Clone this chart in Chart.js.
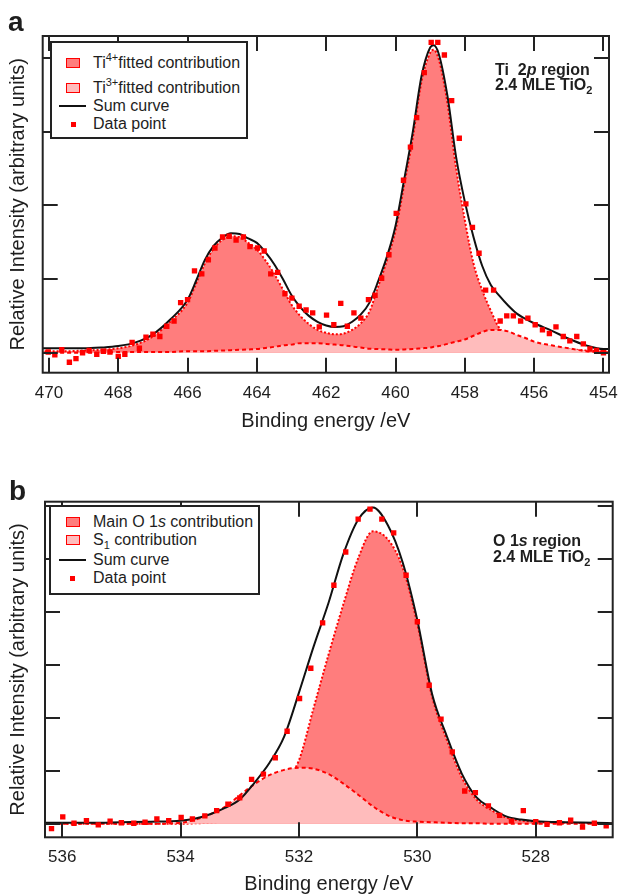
<!DOCTYPE html>
<html><head><meta charset="utf-8">
<script src="https://cdn.jsdelivr.net/npm/chart.js@4.4.1/dist/chart.umd.min.js"></script>
<style>
html,body{margin:0;padding:0;background:#fff;}
#wrap{position:relative;width:622px;height:894px;overflow:hidden;font-family:"Liberation Sans",Arial,Helvetica,sans-serif;color:#1e1e1e;}
canvas{position:absolute;left:0;}
#cA{top:0;} #cB{top:440px;}
.plabel{position:absolute;font-weight:bold;font-size:28px;line-height:28px;}
.legend{position:absolute;background:#fff;border:2px solid #222;box-sizing:border-box;}
.row{position:absolute;left:0;height:18px;width:100%;font-size:16px;line-height:18px;white-space:nowrap;}
.row .txt{position:absolute;top:0;}
.mk{position:absolute;box-sizing:border-box;}
.note{position:absolute;font-weight:bold;font-size:16px;line-height:15.5px;white-space:nowrap;}
sup{font-size:11px;vertical-align:baseline;position:relative;top:-7px;}
sub{font-size:11px;vertical-align:baseline;position:relative;top:4px;}
</style></head>
<body>
<div id="wrap">
<canvas id="cA" width="622" height="440"></canvas>
<canvas id="cB" width="622" height="454"></canvas>

<div class="plabel" style="left:8px;top:8px;">a</div>
<div class="plabel" style="left:9px;top:477px;">b</div>

<div class="legend" style="left:50px;top:41px;width:198px;height:98px;">
  <div class="row" style="top:11px;"><div class="mk" style="left:14px;top:4px;width:14px;height:10px;border:1.5px solid #ff0000;background:#ff7d7d;"></div><span class="txt" style="left:41px;">Ti<sup>4+</sup>fitted contribution</span></div>
  <div class="row" style="top:35.5px;"><div class="mk" style="left:14px;top:4px;width:14px;height:10px;border:1.5px solid #ff0000;background:#ffbcbc;"></div><span class="txt" style="left:41px;">Ti<sup>3+</sup>fitted contribution</span></div>
  <div class="row" style="top:53.5px;"><div class="mk" style="left:7px;top:8px;width:27px;height:2px;background:#111;"></div><span class="txt" style="left:41px;">Sum curve</span></div>
  <div class="row" style="top:72px;"><div class="mk" style="left:18.5px;top:6.5px;width:5px;height:5px;background:#ff0000;"></div><span class="txt" style="left:41px;">Data point</span></div>
</div>

<div class="legend" style="left:49px;top:505px;width:211px;height:90px;">
  <div class="row" style="top:5.5px;"><div class="mk" style="left:14.5px;top:4px;width:14px;height:10px;border:1.5px solid #ff0000;background:#ff7d7d;"></div><span class="txt" style="left:42px;">Main O 1<i>s</i> contribution</span></div>
  <div class="row" style="top:24px;"><div class="mk" style="left:14.5px;top:4px;width:14px;height:10px;border:1.5px solid #ff0000;background:#ffbcbc;"></div><span class="txt" style="left:42px;">S<sub>1</sub> contribution</span></div>
  <div class="row" style="top:44px;"><div class="mk" style="left:7.5px;top:8px;width:27px;height:2px;background:#111;"></div><span class="txt" style="left:42px;">Sum curve</span></div>
  <div class="row" style="top:62px;"><div class="mk" style="left:19px;top:6.5px;width:5px;height:5px;background:#ff0000;"></div><span class="txt" style="left:42px;">Data point</span></div>
</div>

<div class="note" style="left:495px;top:61.7px;">Ti&nbsp; 2<i>p</i> region<br>2.4 MLE TiO<sub>2</sub></div>
<div class="note" style="left:493px;top:533px;">O 1<i>s</i> region<br>2.4 MLE TiO<sub>2</sub></div>
</div>

<script>
// ---------- Panel a : Ti 2p region ----------
const energyA = [453.8, 454, 454.5, 455, 455.5, 456, 456.25, 456.5, 456.75, 457, 457.25, 457.5, 457.75, 458, 458.25, 458.5, 458.75, 458.9, 459, 459.25, 459.5, 459.75, 460, 460.25, 460.5, 460.75, 461, 461.25, 461.5, 461.75, 462, 462.25, 462.5, 462.75, 463, 463.25, 463.5, 463.75, 464, 464.25, 464.5, 464.75, 465, 465.25, 465.5, 465.75, 466, 466.5, 467, 467.5, 468, 468.5, 469, 469.5, 470, 470.2];
const sumA = [0.05, 0.05, 0.10, 0.19, 0.30, 0.40, 0.46, 0.53, 0.64, 0.77, 0.92, 1.18, 1.57, 2.05, 2.65, 3.48, 4.05, 4.17, 4.14, 3.75, 3.0, 2.35, 1.72, 1.3, 0.97, 0.68, 0.52, 0.42, 0.36, 0.35, 0.37, 0.42, 0.5, 0.62, 0.78, 1.0, 1.2, 1.36, 1.49, 1.55, 1.61, 1.62, 1.56, 1.45, 1.26, 0.98, 0.72, 0.45, 0.25, 0.14, 0.09, 0.07, 0.06, 0.06, 0.06, 0.06];
const ti4A = [0.02, 0.02, 0.03, 0.05, 0.07, 0.11, 0.14, 0.18, 0.24, 0.33, 0.57, 0.85, 1.21, 1.8, 2.5, 3.38, 3.98, 4.11, 4.07, 3.68, 2.92, 2.28, 1.66, 1.25, 0.9, 0.56, 0.4, 0.31, 0.26, 0.25, 0.27, 0.31, 0.39, 0.5, 0.65, 0.86, 1.07, 1.25, 1.4, 1.49, 1.57, 1.58, 1.53, 1.41, 1.21, 0.94, 0.68, 0.42, 0.22, 0.11, 0.06, 0.04, 0.03, 0.02, 0.02, 0.02];
const ti3A = [0.0, 0.01, 0.02, 0.06, 0.1, 0.15, 0.2, 0.24, 0.29, 0.31, 0.31, 0.28, 0.23, 0.18, 0.15, 0.12, 0.09, 0.08, 0.07, 0.06, 0.05, 0.045, 0.04, 0.045, 0.05, 0.055, 0.07, 0.085, 0.1, 0.11, 0.12, 0.13, 0.13, 0.13, 0.11, 0.1, 0.08, 0.065, 0.05, 0.045, 0.04, 0.035, 0.03, 0.025, 0.02, 0.02, 0.02, 0.01, 0.01, 0.01, 0.01, 0.0, 0.0, 0.0, 0.0, 0.0];
const dataXA = [470.02, 469.83, 469.63, 469.41, 469.22, 469.03, 468.84, 468.62, 468.43, 468.24, 468.0, 467.81, 467.6, 467.39, 467.2, 467.0, 466.8, 466.6, 466.39, 466.2, 466.0, 465.8, 465.59, 465.4, 465.21, 464.99, 464.8, 464.6, 464.39, 464.2, 463.98, 463.79, 463.6, 463.4, 463.19, 462.99, 462.78, 462.58, 462.39, 462.2, 461.99, 461.78, 461.58, 461.39, 461.2, 461.0, 460.78, 460.59, 460.4, 460.19, 459.98, 459.77, 459.57, 459.39, 459.17, 458.97, 458.78, 458.59, 458.38, 458.16, 457.97, 457.78, 457.59, 457.4, 457.17, 456.98, 456.79, 456.6, 456.39, 456.18, 455.97, 455.76, 455.56, 455.37, 455.16, 454.97, 454.77, 454.58, 454.39, 454.2, 454.0];
const dataYA = [0.01, -0.03, 0.04, -0.13, -0.08, 0.0, 0.03, -0.02, 0.02, 0.01, -0.05, -0.02, 0.14, 0.06, 0.21, 0.25, 0.22, 0.36, 0.43, 0.68, 0.72, 1.11, 1.07, 1.26, 1.42, 1.57, 1.58, 1.53, 1.57, 1.44, 1.42, 1.38, 1.07, 1.09, 0.8, 0.74, 0.63, 0.58, 0.54, 0.35, 0.51, 0.38, 0.67, 0.36, 0.54, 0.47, 0.72, 0.78, 1.01, 1.33, 1.89, 2.34, 2.79, 3.19, 3.8, 4.21, 4.21, 4.04, 3.42, 2.91, 2.02, 1.70, 1.35, 0.85, 0.85, 0.43, 0.50, 0.50, 0.43, 0.47, 0.38, 0.31, 0.26, 0.35, 0.22, 0.16, 0.22, 0.12, 0.05, 0.03, 0.0];
const xTicksA = [454, 456, 458, 460, 462, 464, 466, 468, 470];
const yTicksA = [0, 1, 2, 3, 4];

// ---------- Panel b : O 1s region ----------
const energyB = [526.7, 527, 527.5, 528, 528.25, 528.5, 528.75, 529, 529.25, 529.5, 529.75, 530, 530.25, 530.5, 530.75, 531, 531.25, 531.5, 531.75, 532, 532.25, 532.5, 532.75, 533, 533.25, 533.5, 533.75, 534, 534.5, 535, 535.5, 536, 536.3];
const sumB = [0.01, 0.02, 0.03, 0.05, 0.08, 0.14, 0.3, 0.5, 0.95, 1.65, 2.45, 3.85, 4.95, 5.65, 5.98, 5.75, 5.1, 4.18, 3.36, 2.48, 1.65, 1.15, 0.78, 0.46, 0.3, 0.18, 0.1, 0.06, 0.04, 0.03, 0.02, 0.02, 0.02];
const mainB = [0.0, 0.01, 0.02, 0.04, 0.06, 0.12, 0.26, 0.46, 0.88, 1.58, 2.4, 3.78, 4.85, 5.38, 5.53, 5.02, 4.15, 3.2, 2.2, 1.2, 0.75, 0.4, 0.2, 0.1, 0.05, 0.02, 0.01, 0.0, 0.0, 0.0, 0.0, 0.0, 0.0];
const s1B = [0.0, 0.0, 0.0, 0.0, 0.0, 0.0, 0.0, 0.01, 0.01, 0.02, 0.03, 0.04, 0.07, 0.16, 0.33, 0.55, 0.76, 0.94, 1.04, 1.06, 1.02, 0.92, 0.75, 0.54, 0.32, 0.18, 0.08, 0.02, 0.0, 0.0, 0.0, 0.0, 0.0];
const dataXB = [536.18, 535.99, 535.8, 535.59, 535.39, 535.19, 535.0, 534.79, 534.6, 534.4, 534.2, 533.99, 533.8, 533.59, 533.39, 533.2, 533.0, 532.8, 532.6, 532.4, 532.2, 531.99, 531.8, 531.6, 531.41, 531.21, 531.0, 530.8, 530.6, 530.4, 530.19, 530.0, 529.8, 529.6, 529.41, 529.2, 529.02, 528.8, 528.61, 528.41, 528.21, 528.0, 527.81, 527.6, 527.41, 527.21, 527.01, 526.81];
const dataYB = [-0.09, 0.13, 0.01, 0.06, -0.02, 0.05, 0.02, 0.01, 0.03, 0.09, 0.06, 0.12, 0.09, 0.15, 0.25, 0.37, 0.49, 0.84, 0.94, 1.25, 1.75, 2.37, 2.94, 3.8, 4.51, 5.14, 5.76, 5.95, 5.76, 5.5, 4.70, 3.82, 2.62, 1.98, 1.36, 0.62, 0.59, 0.34, 0.16, 0.05, 0.25, 0.04, -0.01, 0.02, 0.07, -0.06, 0.01, -0.04];
const xTicksB = [528, 530, 532, 534, 536];
const yTicksB = [0, 1, 2, 3, 4, 5, 6];

const yTitle = 'Relative Intensity (arbitrary units)';
const xTitle = 'Binding energy /eV';

const FONT = '"Liberation Sans", Arial, Helvetica, sans-serif';
const INK = '#1e1e1e';
const RED = '#ff0000';
const FILL_MAIN = '#ff7d7d';
const FILL_MINOR = '#ffbcbc';

const framePlugin = {
  id: 'frame',
  afterDraw(chart, args, opts) {
    const {ctx, chartArea: a} = chart;
    const xs = chart.scales.x, ys = chart.scales.y;
    ctx.save();
    ctx.strokeStyle = '#222';
    ctx.lineWidth = 2;
    ctx.strokeRect(a.left, a.top, a.right - a.left, a.bottom - a.top);
    ctx.beginPath();
    const L = 15;
    opts.xTicks.forEach(v => {
      const px = Math.round(xs.getPixelForValue(v));
      ctx.moveTo(px, a.bottom); ctx.lineTo(px, a.bottom - L);
      ctx.moveTo(px, a.top); ctx.lineTo(px, a.top + L);
    });
    opts.yTicks.forEach(v => {
      const py = Math.round(ys.getPixelForValue(v));
      ctx.moveTo(a.left, py); ctx.lineTo(a.left + L, py);
      ctx.moveTo(a.right, py); ctx.lineTo(a.right - L, py);
    });
    ctx.stroke();
    ctx.restore();
  }
};

function pts(xs, ys) { return xs.map((x, i) => ({x: x, y: ys[i]})); }

function makeChart(id, c) {
  return new Chart(document.getElementById(id), {
    type: 'line',
    data: {
      datasets: [
        {label: 'Data point', data: pts(c.dx, c.dy), showLine: false, pointStyle: 'rect', pointRadius: 3.8,
         pointBackgroundColor: RED, pointBorderWidth: 0, order: 0},
        {label: 'Sum curve', data: pts(c.E, c.sum), borderColor: '#111', borderWidth: 2, pointRadius: 0,
         fill: false, cubicInterpolationMode: 'monotone', order: 1},
        {label: c.minorLabel, data: pts(c.E, c.minor), borderColor: RED, borderWidth: 2, borderDash: [4, 3],
         backgroundColor: FILL_MINOR, fill: 'origin', pointRadius: 0, cubicInterpolationMode: 'monotone', order: 2},
        {label: c.mainLabel, data: pts(c.E, c.main), borderColor: RED, borderWidth: 2, borderDash: [2, 2],
         backgroundColor: FILL_MAIN, fill: 'origin', pointRadius: 0, cubicInterpolationMode: 'monotone', order: 3}
      ]
    },
    options: {
      responsive: false, animation: false, devicePixelRatio: 1,
      layout: {padding: {top: c.padTop, right: c.padRight, left: 0, bottom: 0}},
      plugins: {legend: {display: false}, tooltip: {enabled: false}, frame: {xTicks: c.xTicks, yTicks: c.yTicks}},
      scales: {
        x: {
          type: 'linear', reverse: true, min: c.xMin, max: c.xMax,
          grid: {display: false, drawTicks: false}, border: {display: false},
          ticks: {font: {family: FONT, size: 17}, color: INK, padding: 10, maxRotation: 0},
          afterBuildTicks: s => { s.ticks = c.xTicks.map(v => ({value: v})); },
          afterFit: s => { s.height = c.xHeight; },
          title: {display: true, text: xTitle, font: {family: FONT, size: 20, lineHeight: c.xTitleLH}, color: INK, padding: {top: 0, bottom: c.xTitlePad}}
        },
        y: {
          type: 'linear', min: c.yMin, max: c.yMax,
          grid: {display: false, drawTicks: false}, border: {display: false},
          ticks: {display: false},
          afterFit: s => { s.width = c.yWidth; },
          title: {display: true, text: yTitle, font: {family: FONT, size: 20}, color: INK, padding: {top: 6, bottom: 0}}
        }
      }
    },
    plugins: [framePlugin]
  });
}

makeChart('cA', {
  E: energyA, sum: sumA, main: ti4A, minor: ti3A, dx: dataXA, dy: dataYA,
  mainLabel: 'Ti4+ fitted contribution', minorLabel: 'Ti3+ fitted contribution',
  xTicks: xTicksA, yTicks: yTicksA, xMin: 453.84, xMax: 470.18, yMin: -0.271, yMax: 4.297,
  padTop: 36, padRight: 13, yWidth: 42.7, xHeight: 67.3, xTitlePad: 9, xTitleLH: 1
});
makeChart('cB', {
  E: energyB, sum: sumB, main: mainB, minor: s1B, dx: dataXB, dy: dataYB,
  mainLabel: 'Main O 1s contribution', minorLabel: 'S1 contribution',
  xTicks: xTicksB, yTicks: yTicksB, xMin: 526.7, xMax: 536.29, yMin: -0.255, yMax: 6.09,
  padTop: 61.7, padRight: 9.3, yWidth: 45, xHeight: 56.7, xTitlePad: 0, xTitleLH: 1
});
</script>
</body></html>
